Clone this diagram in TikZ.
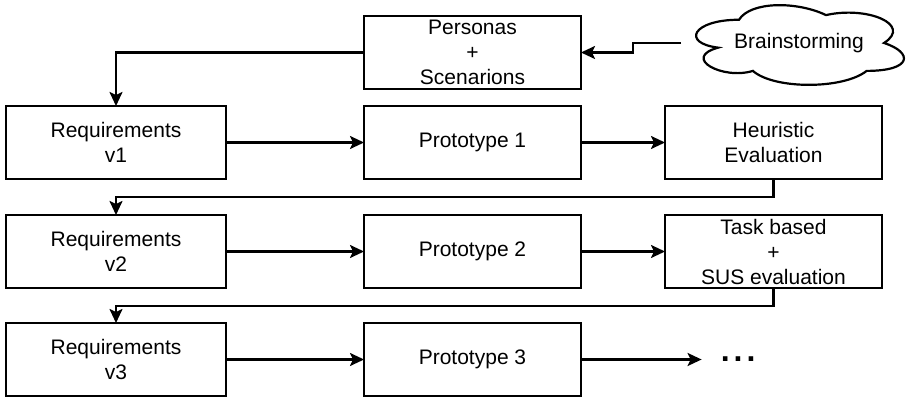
\documentclass[tikz,border=0pt]{standalone}
\usepackage{fontspec}
\setmainfont{Liberation Sans}
\usetikzlibrary{arrows.meta}
\tikzset{
  box/.style={draw=black, line width=2.2pt, minimum height=73pt, inner sep=0pt, outer sep=0pt,
    align=center, font=\fontsize{21}{25}\selectfont, text=black},
  lbox/.style={box, minimum width=220pt},
  mbox/.style={box, minimum width=217pt},
  conn/.style={draw=black, line width=2.2pt, -{Stealth[length=14pt,width=13pt,inset=3pt]}},
}
\begin{document}
\begin{tikzpicture}[x=1pt, y=-1pt]
\useasboundingbox (0,0) rectangle (906,398);
% nodes
\node[mbox] (pers) at (472.5,52.5) {Personas\\+\\Scenarions};
\node[inner sep=0pt, outer sep=0pt, minimum width=232pt, minimum height=93pt,
      font=\fontsize{21}{25}\selectfont, text=black] (brain) at (797,43) {\hspace{4pt}Brainstorming};
\begin{scope}[shift={(brain.north west)}, x=232pt, y=-93pt]
\draw[line width=2.2pt] (0.25,0.25) .. controls (0.05,0.25) and (0,0.5) .. (0.16,0.55)
  .. controls (0,0.66) and (0.18,0.9) .. (0.31,0.8)
  .. controls (0.4,1) and (0.7,1) .. (0.8,0.8)
  .. controls (1,0.8) and (1,0.6) .. (0.875,0.5)
  .. controls (1,0.3) and (0.8,0.1) .. (0.625,0.2)
  .. controls (0.5,0.05) and (0.3,0.05) .. (0.25,0.25) -- cycle;
\end{scope}
\node[lbox] (req1) at (116,142.5) {Requirements\\v1};
\node[mbox] (pro1) at (472.5,142.5) {Prototype 1};
\node[mbox] (heur) at (773.5,142.5) {Heuristic\\Evaluation};
\node[lbox] (req2) at (116,251.5) {Requirements\\v2};
\node[mbox] (pro2) at (472.5,251.5) {Prototype 2};
\node[mbox] (task) at (773.5,251.5) {Task based\\+\\SUS evaluation};
\node[lbox] (req3) at (116,359.5) {Requirements\\v3};
\node[mbox] (pro3) at (472.5,359.5) {Prototype 3};
\node[anchor=base west, inner xsep=19pt, inner ysep=0pt, font=\fontsize{32}{32}\selectfont\bfseries] (dots) at (701.6,362) {.\kern4pt.\kern4pt.};
% connectors
\draw[conn] (brain.west) -- ([xshift=-48pt]brain.west) |- (pers.east);
\draw[conn] (pers.west) -| (req1.north);
\draw[conn] (req1) -- (pro1);
\draw[conn] (pro1) -- (heur);
\draw[conn] (heur.south) -- ++(0,18) -| (req2.north);
\draw[conn] (req2) -- (pro2);
\draw[conn] (pro2) -- (task);
\draw[conn] (task.south) -- ++(0,18) -| (req3.north);
\draw[conn] (req3) -- (pro3);
\draw[conn] (pro3.east) -- (pro3.east -| dots.west);
\end{tikzpicture}
\end{document}
